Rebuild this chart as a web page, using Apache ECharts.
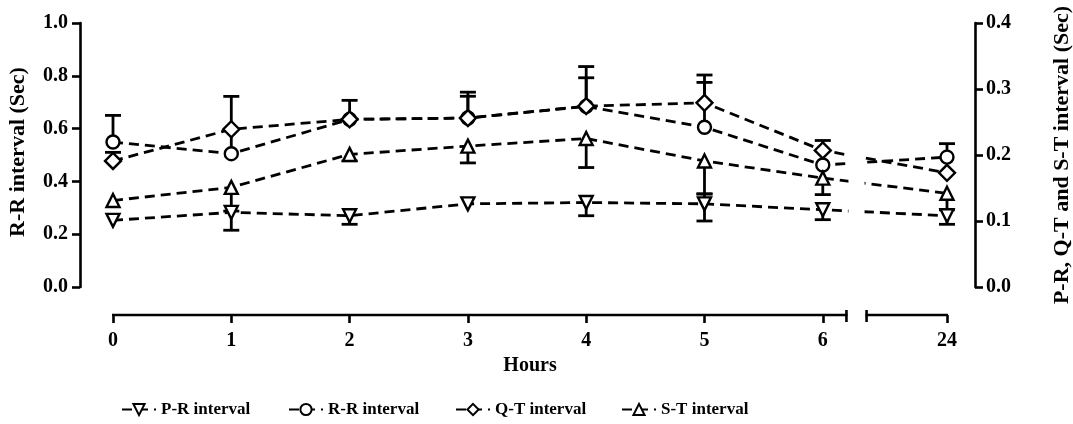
<!DOCTYPE html>
<html>
<head>
<meta charset="utf-8">
<script src="https://cdn.jsdelivr.net/npm/echarts@6/dist/echarts.min.js"></script>
<style>
html,body{margin:0;padding:0;background:#fff;}
#chart{width:1073px;height:424px;}
</style>
</head>
<body>
<div id="chart"></div>
<script>
// ---- data ----
const hours = [0, 1, 2, 3, 4, 5, 6, 24];
const hourLabels = ['0', '1', '2', '3', '4', '5', '6', '24'];
const leftTicks = [0, 0.2, 0.4, 0.6, 0.8, 1.0];
const rightTicks = [0, 0.1, 0.2, 0.3, 0.4];
const seriesNames = ['P-R interval', 'R-R interval', 'Q-T interval', 'S-T interval'];

// P-R interval (right axis, Sec)
const prMean = [0.101, 0.113, 0.108, 0.126, 0.128, 0.126, 0.117, 0.108];
const prLow  = [null, 0.086, 0.095, null, 0.108, 0.100, 0.102, 0.095];
const prHigh = [null, null, null, null, null, 0.141, null, null];
// R-R interval (left axis, Sec)
const rrMean = [0.549, 0.505, 0.635, 0.640, 0.684, 0.605, 0.462, 0.492];
const rrLow  = [null, null, null, null, null, null, null, null];
const rrHigh = [0.650, 0.722, 0.707, 0.738, 0.835, 0.803, 0.555, 0.543];
// Q-T interval (right axis, Sec)
const qtMean = [0.191, 0.239, 0.254, 0.256, 0.274, 0.279, 0.207, 0.173];
const qtLow  = [null, null, null, null, null, null, null, null];
const qtHigh = [0.204, null, null, 0.289, 0.317, 0.310, null, null];
// S-T interval (right axis, Sec)
const stMean = [0.131, 0.151, 0.201, 0.2135, 0.225, 0.191, 0.165, 0.142];
const stLow  = [null, 0.115, 0.191, 0.188, 0.181, 0.141, 0.140, 0.117];
const stHigh = [null, null, null, null, null, null, null, null];

// ---- broken x scale: hours 0..6 linear, then gap, then 24 ----
const BREAK_FROM = 6.2, BREAK_TO = 23.32, BREAK_GAP = 0.17;
function pos(h) { return h <= BREAK_FROM ? h : h - BREAK_TO + BREAK_FROM + BREAK_GAP; }
const xPos = hours.map(pos);
const X_MAX = pos(24);

const FONT = "'Liberation Serif', 'Times New Roman', serif";
const AX_OFF = 28;

function pts(mean) { return mean.map((v, i) => [xPos[i], v]); }
function errData(mean, low, high) {
  const out = [];
  mean.forEach((m, i) => {
    const lo = low[i] == null ? m : low[i];
    const hi = high[i] == null ? m : high[i];
    if (lo !== hi) out.push([xPos[i], lo, hi, low[i] != null ? 1 : 0, high[i] != null ? 1 : 0]);
  });
  return out;
}
function errRender(params, api) {
  const x = api.value(0);
  const pLo = api.coord([x, api.value(1)]);
  const pHi = api.coord([x, api.value(2)]);
  const cw = 8;
  const st = { stroke: '#000', lineWidth: 2.8 };
  const ch = [{ type: 'line', shape: { x1: pLo[0], y1: pLo[1], x2: pHi[0], y2: pHi[1] }, style: st }];
  if (api.value(3)) ch.push({ type: 'line', shape: { x1: pLo[0] - cw, y1: pLo[1], x2: pLo[0] + cw, y2: pLo[1] }, style: st });
  if (api.value(4)) ch.push({ type: 'line', shape: { x1: pHi[0] - cw, y1: pHi[1], x2: pHi[0] + cw, y2: pHi[1] }, style: st });
  return { type: 'group', children: ch };
}
function errSeries(mean, low, high, yi) {
  return { type: 'custom', yAxisIndex: yi, z: 1, silent: true, clip: false,
    data: errData(mean, low, high), renderItem: errRender };
}
function lineSeries(name, mean, yi, symbol, rotate) {
  return {
    name: name, type: 'line', yAxisIndex: yi, z: 3, data: pts(mean),
    symbol: symbol, symbolSize: symbol === 'circle' ? 13 : (symbol === 'diamond' ? 16 : 13),
    symbolRotate: rotate || 0, showSymbol: true,
    lineStyle: { color: '#000', width: 2.8, type: [10, 6] },
    itemStyle: { color: '#fff', borderColor: '#000', borderWidth: 2.4 },
    emphasis: { disabled: true }, animation: false
  };
}

const axisSegs = [[pos(0), BREAK_FROM], [BREAK_FROM + BREAK_GAP, X_MAX]];

const option = {
  animation: false,
  backgroundColor: '#fff',
  grid: { left: 113, right: 126, top: 23, bottom: 137, containLabel: false, outerBoundsMode: 'none' },
  xAxis: {
    type: 'value', min: 0, max: X_MAX, offset: AX_OFF,
    axisLine: { show: false, onZero: false },
    splitLine: { show: false },
    axisTick: { show: true, customValues: xPos, length: 8, lineStyle: { color: '#000', width: 2.6 } },
    axisLabel: { show: true, customValues: xPos, margin: 16,
      formatter: v => { const i = xPos.findIndex(p => Math.abs(p - v) < 1e-6); return i >= 0 ? hourLabels[i] : ''; },
      color: '#000', fontFamily: FONT, fontWeight: 'bold', fontSize: 20 },
    name: 'Hours', nameLocation: 'middle', nameGap: 36,
    nameTextStyle: { color: '#000', fontFamily: FONT, fontWeight: 'bold', fontSize: 20 }
  },
  yAxis: [
    { type: 'value', min: 0, max: 1, interval: 0.2, position: 'left', offset: 33,
      axisLine: { show: true, onZero: false, lineStyle: { color: '#000', width: 2.6 } },
      axisTick: { show: true, length: 8, lineStyle: { color: '#000', width: 2.6 } },
      splitLine: { show: false },
      axisLabel: { formatter: v => v.toFixed(1), color: '#000', fontFamily: FONT, fontWeight: 'bold', fontSize: 20, margin: 12 },
      name: 'R-R interval (Sec)', nameLocation: 'middle', nameGap: 51, nameRotate: 90,
      nameTextStyle: { color: '#000', fontFamily: FONT, fontWeight: 'bold', fontSize: 22, padding: [0, 0, 0, 6] } },
    { type: 'value', min: 0, max: 0.4, interval: 0.1, position: 'right', offset: 28,
      axisLine: { show: true, onZero: false, lineStyle: { color: '#000', width: 2.6 } },
      axisTick: { show: true, length: 8, lineStyle: { color: '#000', width: 2.6 } },
      splitLine: { show: false },
      axisLabel: { formatter: v => v.toFixed(1), color: '#000', fontFamily: FONT, fontWeight: 'bold', fontSize: 20, margin: 11 },
      name: 'P-R, Q-T and S-T interval (Sec)', nameLocation: 'middle', nameGap: 76, nameRotate: 90,
      nameTextStyle: { color: '#000', fontFamily: FONT, fontWeight: 'bold', fontSize: 22 } }
  ],
  legend: seriesNames.map((n, i) => ({
    data: [n], left: [116, 283, 450, 616][i], top: 396, itemWidth: 34, itemHeight: 14, itemGap: 0,
    textStyle: { color: '#000', fontFamily: FONT, fontWeight: 'bold', fontSize: 17 },
    selectedMode: false
  })),
  series: [
    errSeries(prMean, prLow, prHigh, 1),
    errSeries(rrMean, rrLow, rrHigh, 0),
    errSeries(qtMean, qtLow, qtHigh, 1),
    errSeries(stMean, stLow, stHigh, 1),
    lineSeries(seriesNames[0], prMean, 1, 'triangle', 180),
    lineSeries(seriesNames[1], rrMean, 0, 'circle'),
    lineSeries(seriesNames[2], qtMean, 1, 'diamond'),
    lineSeries(seriesNames[3], stMean, 1, 'triangle'),
    { // white mask over the axis break gap inside the plot
      type: 'custom', z: 5, silent: true, clip: false, yAxisIndex: 0,
      data: [[BREAK_FROM, BREAK_FROM + BREAK_GAP]],
      renderItem: (params, api) => {
        const a = api.coord([api.value(0), 1]);
        const b = api.coord([api.value(1), 0]);
        return { type: 'rect', shape: { x: a[0] + 2, y: a[1], width: b[0] - a[0] - 4, height: b[1] - a[1] }, style: { fill: '#fff' } };
      }
    },
    { // broken x axis line with end caps
      type: 'custom', z: 6, silent: true, clip: false, yAxisIndex: 0,
      data: axisSegs,
      renderItem: (params, api) => {
        const a = api.coord([api.value(0), 0]);
        const b = api.coord([api.value(1), 0]);
        const y = a[1] + AX_OFF;
        const st = { stroke: '#000', lineWidth: 2.6 };
        const ch = [{ type: 'line', shape: { x1: a[0] - 1, y1: y, x2: b[0] + 1, y2: y }, style: st }];
        if (params.dataIndex === 0) ch.push({ type: 'line', shape: { x1: b[0], y1: y - 5, x2: b[0], y2: y + 7 }, style: st });
        else ch.push({ type: 'line', shape: { x1: a[0], y1: y - 5, x2: a[0], y2: y + 7 }, style: st });
        return { type: 'group', children: ch };
      }
    }
  ]
};
const chart = echarts.init(document.getElementById('chart'), null, { renderer: 'canvas' });
chart.setOption(option);
</script>
</body>
</html>
